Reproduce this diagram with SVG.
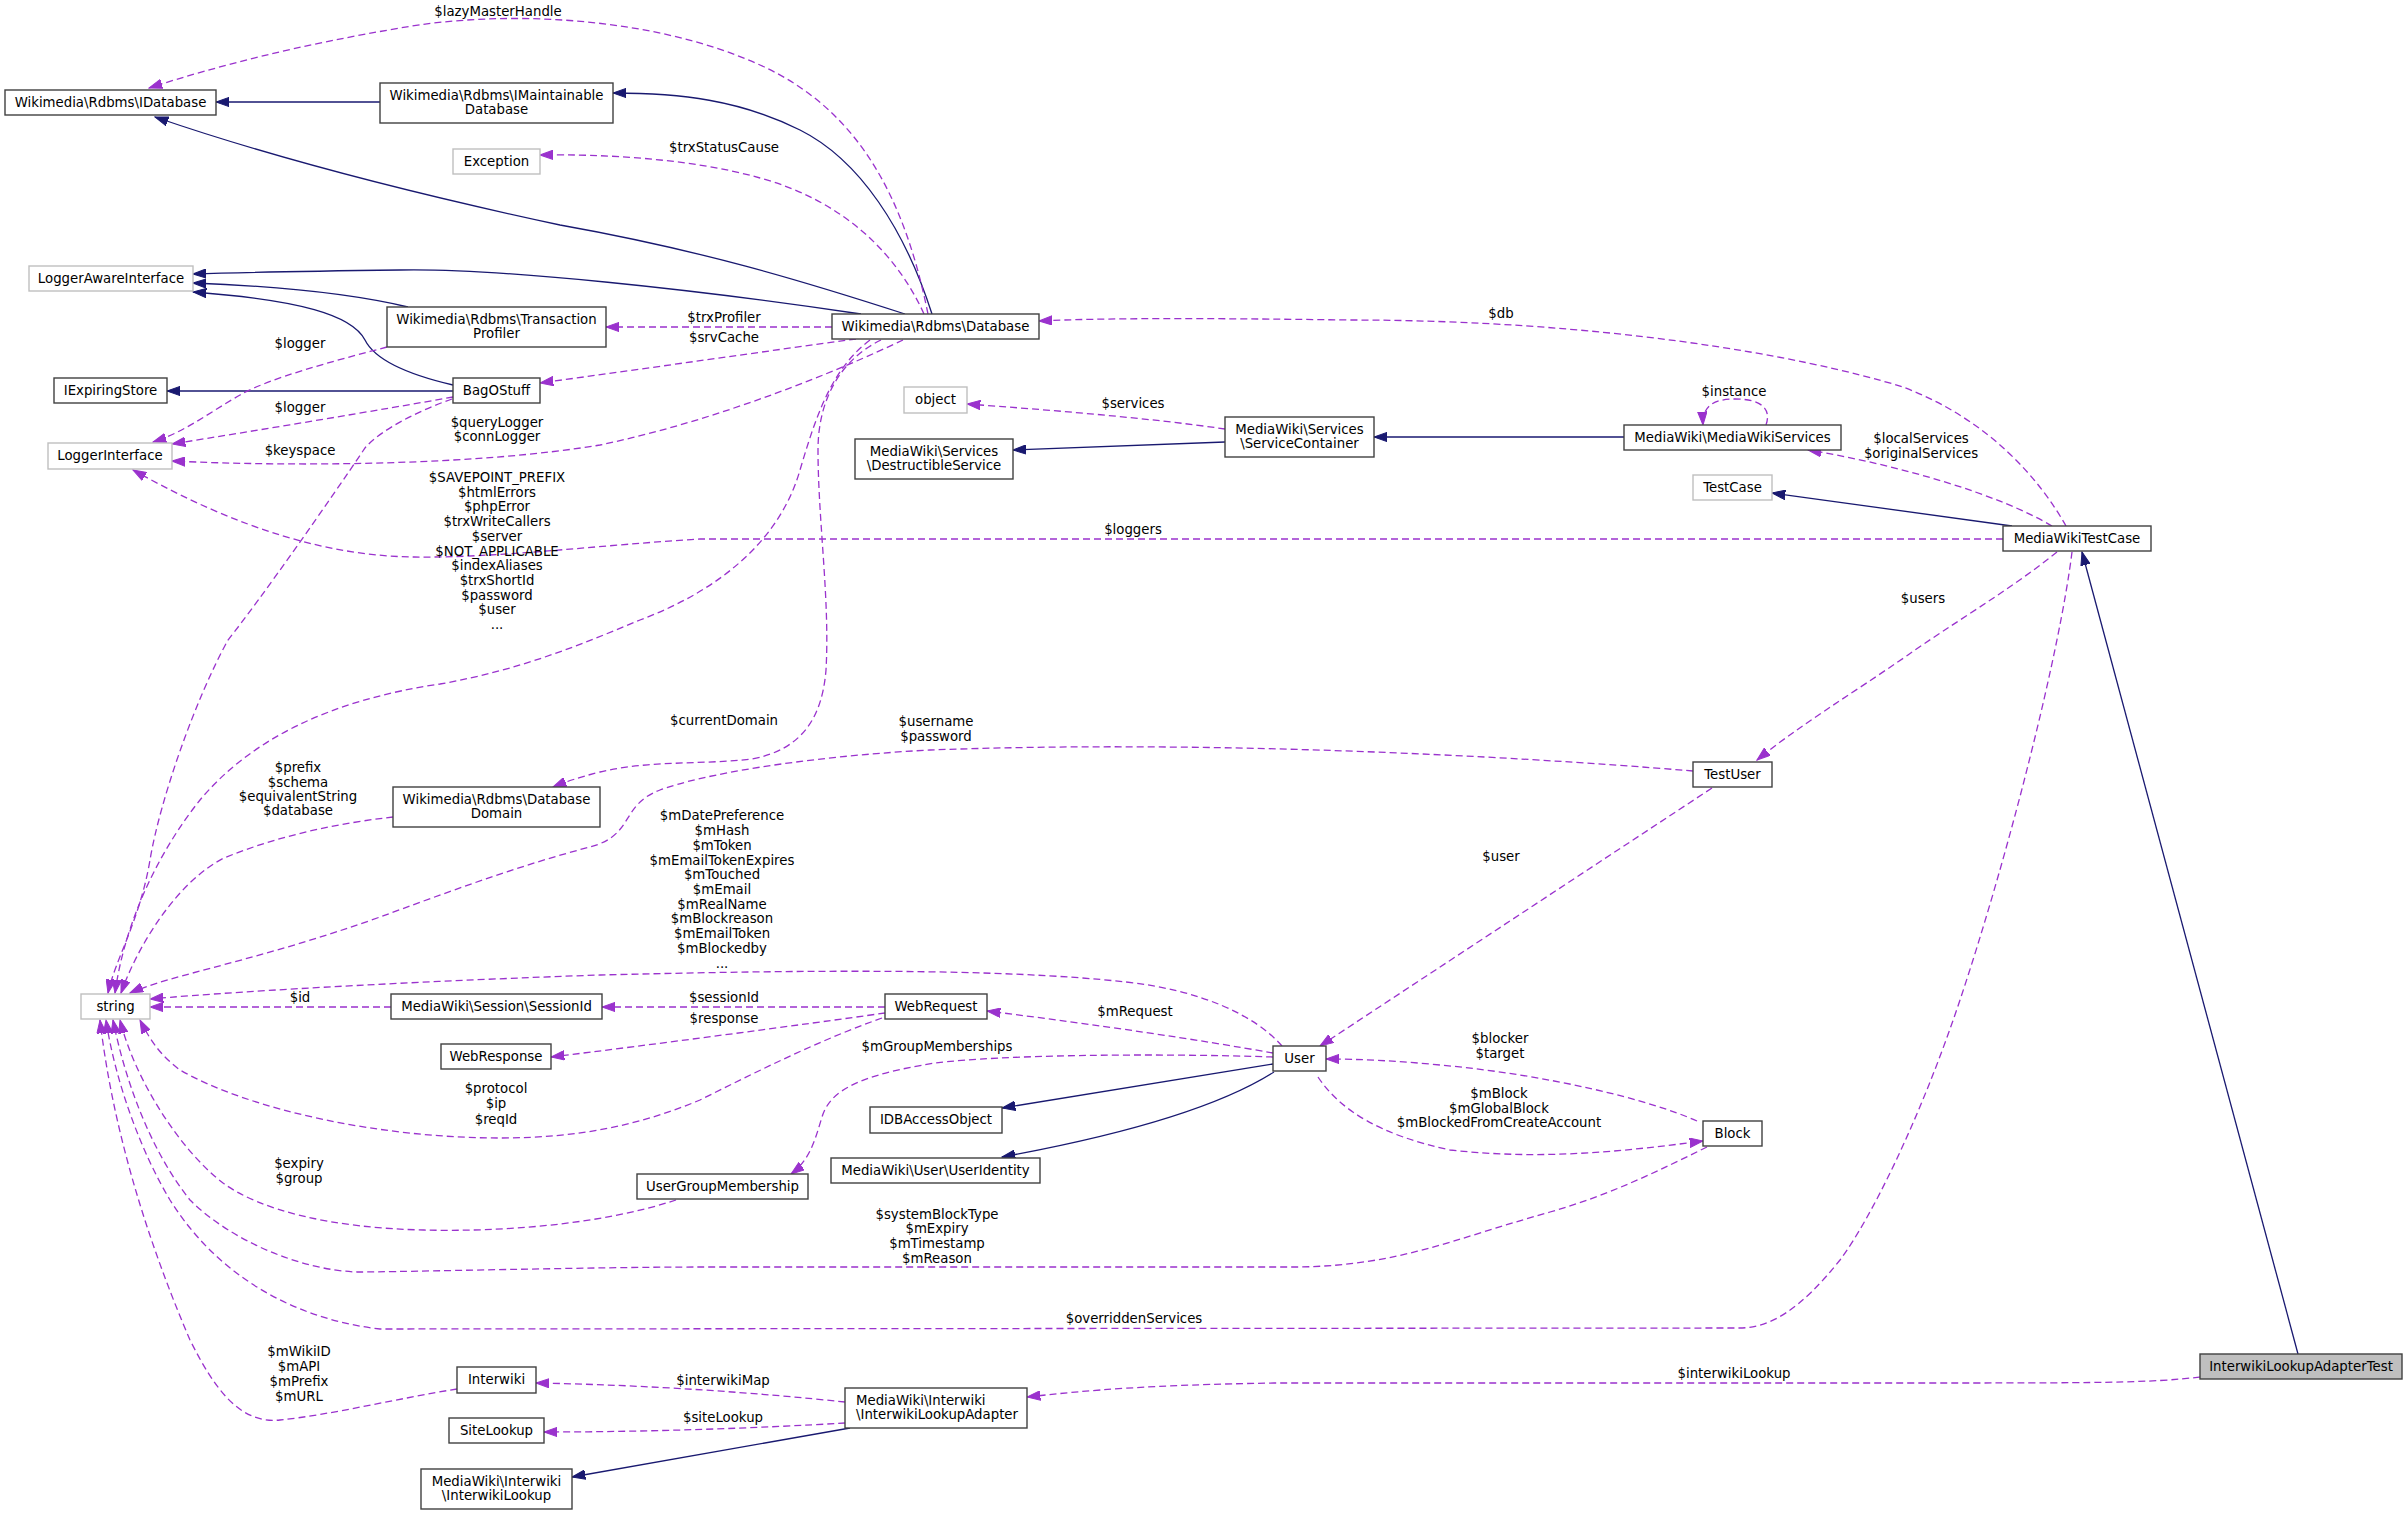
<svg xmlns="http://www.w3.org/2000/svg" width="2408" height="1515" viewBox="0 0 2408 1515">
<style>
text{font-family:"DejaVu Sans","Liberation Sans",sans-serif;font-size:13.3px;fill:#000}
.n rect{fill:#fff;stroke:#404040;stroke-width:1.4}
.g rect{fill:#fff;stroke:#bfbfbf;stroke-width:1.4}
.n text,.g text,.l text{text-anchor:middle}
.e path{fill:none;stroke:#191970;stroke-width:1.3;marker-end:url(#ab)}
.u path{fill:none;stroke:#9a32cd;stroke-width:1.3;stroke-dasharray:7,4;marker-end:url(#ap)}
</style>
<defs>
<marker id="ab" markerUnits="userSpaceOnUse" markerWidth="14" markerHeight="10" refX="13.3" refY="5" orient="auto"><path d="M0,0.3 L13.3,5 L0,9.7 z" fill="#191970" stroke="#191970" stroke-width="1"/></marker>
<marker id="ap" markerUnits="userSpaceOnUse" markerWidth="14" markerHeight="10" refX="13.3" refY="5" orient="auto"><path d="M0,0.3 L13.3,5 L0,9.7 z" fill="#9a32cd" stroke="#9a32cd" stroke-width="1"/></marker>
</defs>
<rect width="2408" height="1515" fill="#fff"/>
<g id="connectors">
<g class="e">
<path d="M380,102 L216,102"/>
<path d="M905,314 C800,280 700,250 560,225 C420,195 280,160 155,117"/>
<path d="M932,314 C905,230 860,160 800,130 C740,100 680,93 613,93"/>
<path d="M861,314 C700,290 500,268 400,270 C320,271 250,272 193,274"/>
<path d="M408,307 C370,298 300,287 193,283"/>
<path d="M453,385 C410,375 375,360 365,340 C352,315 300,300 193,292"/>
<path d="M453,391 L167,391"/>
<path d="M1225,442 L1013,450"/>
<path d="M1624,437 L1374,437"/>
<path d="M2012,526 L1772,493"/>
<path d="M2298,1354 L2082,552"/>
<path d="M1273,1064 L1002,1108"/>
<path d="M1274,1072 C1230,1100 1150,1130 1002,1157"/>
<path d="M850,1428 L572,1477"/>
</g>
<g class="u">
<path d="M928,314 C905,200 860,110 760,65 C650,15 500,10 400,28 C300,45 220,65 149,88"/>
<path d="M924,314 C895,250 840,200 760,178 C690,158 600,154 540,155"/>
<path d="M832,327 L606,327"/>
<path d="M856,339 C760,352 650,368 540,383"/>
<path d="M903,340 C840,370 720,420 600,445 C480,465 300,467 172,461"/>
<path d="M870,340 C830,370 815,420 800,470 C780,540 720,590 640,620 C580,645 520,670 440,684 C330,700 250,740 200,800 C160,850 125,920 115,993"/>
<path d="M881,340 C840,360 818,400 818,450 C818,520 830,600 826,670 C822,720 800,750 752,759 C700,765 650,760 600,772 C580,777 565,782 553,787"/>
<path d="M2066,526 C2040,480 1990,420 1903,387 C1800,355 1600,320 1349,320 C1200,318 1100,318 1039,321"/>
<path d="M1225,429 C1150,418 1050,410 967,404"/>
<path d="M1766,425 C1772,408 1760,399 1735,399 C1715,399 1702,405 1703,425"/>
<path d="M2052,526 C2000,495 1900,465 1808,450"/>
<path d="M2003,539 L700,539 C600,545 500,558 414,557 C330,556 240,530 133,470"/>
<path d="M2057,552 C2010,590 1950,625 1908,655 C1850,695 1800,725 1757,760"/>
<path d="M2072,552 C2060,650 2010,850 1960,1000 C1920,1120 1870,1220 1840,1260 C1800,1310 1770,1328 1739,1328 L380,1329 C300,1320 220,1280 170,1200 C140,1150 115,1080 106,1020"/>
<path d="M2200,1377 C2150,1383 2100,1383 1909,1383 L1274,1383 C1150,1385 1090,1390 1027,1397"/>
<path d="M845,1402 C760,1393 650,1385 536,1383"/>
<path d="M845,1423 C760,1428 650,1432 544,1432"/>
<path d="M457,1389 C400,1398 330,1415 280,1420 C240,1424 215,1390 190,1340 C160,1270 115,1150 100,1020"/>
<path d="M1693,771 C1500,755 1200,740 930,750 C800,757 700,775 660,790 C620,805 635,835 590,847 C520,865 440,895 380,917 C260,960 170,975 130,993"/>
<path d="M393,817 C340,823 280,835 224,858 C180,880 140,940 121,993"/>
<path d="M453,397 C380,410 260,430 172,444"/>
<path d="M387,347 C330,362 270,378 240,395 C210,412 185,432 153,442"/>
<path d="M452,399 C420,410 380,430 365,448 C330,500 260,600 228,640 C195,700 160,800 150,860 C140,920 115,960 108,993"/>
<path d="M885,1007 L602,1007"/>
<path d="M885,1013 C800,1025 650,1045 551,1057"/>
<path d="M882,1018 C820,1040 760,1070 700,1100 C640,1125 580,1138 500,1138 C380,1138 250,1110 180,1070 C160,1055 150,1040 140,1020"/>
<path d="M1273,1053 C1200,1040 1100,1025 987,1011"/>
<path d="M1282,1046 C1255,1015 1200,990 1126,982 C1000,968 800,970 600,975 C450,980 250,990 150,999"/>
<path d="M1273,1057 C1150,1053 1000,1055 935,1063 C860,1075 830,1090 822,1117 C815,1140 810,1160 791,1174"/>
<path d="M1318,1077 C1340,1110 1380,1135 1450,1150 C1540,1160 1620,1152 1703,1141"/>
<path d="M1697,1121 C1650,1100 1550,1075 1440,1065 C1400,1061 1360,1059 1326,1059"/>
<path d="M1712,788 L1320,1046"/>
<path d="M1707,1147 C1660,1170 1610,1195 1550,1212 C1450,1240 1400,1265 1300,1267 L700,1267 C600,1267 400,1272 357,1272 C300,1270 230,1240 190,1200 C150,1150 125,1080 113,1020"/>
<path d="M676,1200 C600,1225 500,1232 424,1230 C330,1228 260,1210 223,1183 C180,1150 135,1080 120,1020"/>
<path d="M391,1007 L150,1007"/>
</g>
<g class="l">
<text x="498" y="16">$lazyMasterHandle</text>
<text x="724" y="152">$trxStatusCause</text>
<text x="724" y="322">$trxProfiler</text>
<text x="724" y="342">$srvCache</text>
<text x="497" y="427">$queryLogger</text>
<text x="497" y="441">$connLogger</text>
<text x="300" y="348">$logger</text>
<text x="300" y="412">$logger</text>
<text x="300" y="455">$keyspace</text>
<text x="497" y="482">$SAVEPOINT_PREFIX</text>
<text x="497" y="497">$htmlErrors</text>
<text x="497" y="511">$phpError</text>
<text x="497" y="526">$trxWriteCallers</text>
<text x="497" y="541">$server</text>
<text x="497" y="556">$NOT_APPLICABLE</text>
<text x="497" y="570">$indexAliases</text>
<text x="497" y="585">$trxShortId</text>
<text x="497" y="600">$password</text>
<text x="497" y="614">$user</text>
<text x="497" y="629">...</text>
<text x="1133" y="408">$services</text>
<text x="1734" y="396">$instance</text>
<text x="1921" y="443">$localServices</text>
<text x="1921" y="458">$originalServices</text>
<text x="1501" y="318">$db</text>
<text x="1133" y="534">$loggers</text>
<text x="1923" y="603">$users</text>
<text x="724" y="725">$currentDomain</text>
<text x="936" y="726">$username</text>
<text x="936" y="741">$password</text>
<text x="298" y="772">$prefix</text>
<text x="298" y="787">$schema</text>
<text x="298" y="801">$equivalentString</text>
<text x="298" y="815">$database</text>
<text x="722" y="820">$mDatePreference</text>
<text x="722" y="835">$mHash</text>
<text x="722" y="850">$mToken</text>
<text x="722" y="865">$mEmailTokenExpires</text>
<text x="722" y="879">$mTouched</text>
<text x="722" y="894">$mEmail</text>
<text x="722" y="909">$mRealName</text>
<text x="722" y="923">$mBlockreason</text>
<text x="722" y="938">$mEmailToken</text>
<text x="722" y="953">$mBlockedby</text>
<text x="722" y="968">...</text>
<text x="1501" y="861">$user</text>
<text x="724" y="1002">$sessionId</text>
<text x="300" y="1002">$id</text>
<text x="724" y="1023">$response</text>
<text x="1135" y="1016">$mRequest</text>
<text x="937" y="1051">$mGroupMemberships</text>
<text x="1500" y="1043">$blocker</text>
<text x="1500" y="1058">$target</text>
<text x="496" y="1093">$protocol</text>
<text x="496" y="1108">$ip</text>
<text x="496" y="1124">$reqId</text>
<text x="1499" y="1098">$mBlock</text>
<text x="1499" y="1113">$mGlobalBlock</text>
<text x="1499" y="1127">$mBlockedFromCreateAccount</text>
<text x="299" y="1168">$expiry</text>
<text x="299" y="1183">$group</text>
<text x="937" y="1219">$systemBlockType</text>
<text x="937" y="1233">$mExpiry</text>
<text x="937" y="1248">$mTimestamp</text>
<text x="937" y="1263">$mReason</text>
<text x="1134" y="1323">$overriddenServices</text>
<text x="299" y="1356">$mWikiID</text>
<text x="299" y="1371">$mAPI</text>
<text x="299" y="1386">$mPrefix</text>
<text x="299" y="1401">$mURL</text>
<text x="723" y="1385">$interwikiMap</text>
<text x="1734" y="1378">$interwikiLookup</text>
<text x="723" y="1422">$siteLookup</text>
</g>
</g>
<g id="IDatabase" class="n"><rect x="5" y="90" width="211" height="25"/><text x="110.5" y="107">Wikimedia\Rdbms\IDatabase</text></g>
<g id="IMaintainableDatabase" class="n"><rect x="380" y="83" width="233" height="40"/><text x="496.5" y="99.5">Wikimedia\Rdbms\IMaintainable</text><text x="496.5" y="113.5">Database</text></g>
<g id="Exception" class="g"><rect x="453" y="149" width="87" height="25"/><text x="496.5" y="166">Exception</text></g>
<g id="LoggerAwareInterface" class="g"><rect x="29" y="266" width="164" height="25"/><text x="111" y="283">LoggerAwareInterface</text></g>
<g id="TransactionProfiler" class="n"><rect x="387" y="307" width="219" height="40"/><text x="496.5" y="323.5">Wikimedia\Rdbms\Transaction</text><text x="496.5" y="337.5">Profiler</text></g>
<g id="Database" class="n"><rect x="832" y="314" width="207" height="25"/><text x="935.5" y="331">Wikimedia\Rdbms\Database</text></g>
<g id="IExpiringStore" class="n"><rect x="54" y="378" width="113" height="25"/><text x="110.5" y="395">IExpiringStore</text></g>
<g id="BagOStuff" class="n"><rect x="453" y="378" width="87" height="25"/><text x="496.5" y="395">BagOStuff</text></g>
<g id="LoggerInterface" class="g"><rect x="48" y="443" width="124" height="26"/><text x="110" y="460">LoggerInterface</text></g>
<g id="object" class="g"><rect x="904" y="387" width="63" height="26"/><text x="935.5" y="404">object</text></g>
<g id="DestructibleService" class="n"><rect x="855" y="439" width="158" height="40"/><text x="934" y="455.5">MediaWiki\Services</text><text x="934" y="469.5">\DestructibleService</text></g>
<g id="ServiceContainer" class="n"><rect x="1225" y="417" width="149" height="40"/><text x="1299.5" y="433.5">MediaWiki\Services</text><text x="1299.5" y="447.5">\ServiceContainer</text></g>
<g id="MediaWikiServices" class="n"><rect x="1624" y="425" width="217" height="25"/><text x="1732.5" y="442">MediaWiki\MediaWikiServices</text></g>
<g id="TestCase" class="g"><rect x="1693" y="475" width="79" height="25"/><text x="1732.5" y="492">TestCase</text></g>
<g id="MediaWikiTestCase" class="n"><rect x="2003" y="526" width="148" height="25"/><text x="2077" y="543">MediaWikiTestCase</text></g>
<g id="TestUser" class="n"><rect x="1693" y="762" width="79" height="25"/><text x="1732.5" y="779">TestUser</text></g>
<g id="DatabaseDomain" class="n"><rect x="393" y="787" width="207" height="40"/><text x="496.5" y="803.5">Wikimedia\Rdbms\Database</text><text x="496.5" y="817.5">Domain</text></g>
<g id="string" class="g"><rect x="81" y="994" width="69" height="25"/><text x="115.5" y="1011">string</text></g>
<g id="SessionId" class="n"><rect x="391" y="994" width="211" height="25"/><text x="496.5" y="1011">MediaWiki\Session\SessionId</text></g>
<g id="WebRequest" class="n"><rect x="885" y="994" width="102" height="25"/><text x="936" y="1011">WebRequest</text></g>
<g id="WebResponse" class="n"><rect x="441" y="1044" width="110" height="25"/><text x="496" y="1061">WebResponse</text></g>
<g id="User" class="n"><rect x="1273" y="1046" width="53" height="25"/><text x="1299.5" y="1063">User</text></g>
<g id="IDBAccessObject" class="n"><rect x="870" y="1107" width="132" height="26"/><text x="936" y="1124">IDBAccessObject</text></g>
<g id="UserIdentity" class="n"><rect x="831" y="1158" width="209" height="25"/><text x="935.5" y="1175">MediaWiki\User\UserIdentity</text></g>
<g id="Block" class="n"><rect x="1703" y="1121" width="59" height="25"/><text x="1732.5" y="1138">Block</text></g>
<g id="UserGroupMembership" class="n"><rect x="637" y="1174" width="171" height="25"/><text x="722.5" y="1191">UserGroupMembership</text></g>
<g id="Interwiki" class="n"><rect x="457" y="1367" width="79" height="26"/><text x="496.5" y="1384">Interwiki</text></g>
<g id="SiteLookup" class="n"><rect x="449" y="1418" width="95" height="25"/><text x="496.5" y="1435">SiteLookup</text></g>
<g id="InterwikiLookup" class="n"><rect x="421" y="1469" width="151" height="40"/><text x="496.5" y="1485.5">MediaWiki\Interwiki</text><text x="496.5" y="1499.5">\InterwikiLookup</text></g>
<g id="InterwikiLookupAdapter" class="n"><rect x="845" y="1388" width="182" height="40"/><text x="856" y="1404.5" style="text-anchor:start">MediaWiki\Interwiki</text><text x="856" y="1418.5" style="text-anchor:start">\InterwikiLookupAdapter</text></g>
<g id="InterwikiLookupAdapterTest" class="n"><rect x="2200" y="1354" width="202" height="25" style="fill:#bfbfbf"/><text x="2301" y="1371">InterwikiLookupAdapterTest</text></g>
</svg>
